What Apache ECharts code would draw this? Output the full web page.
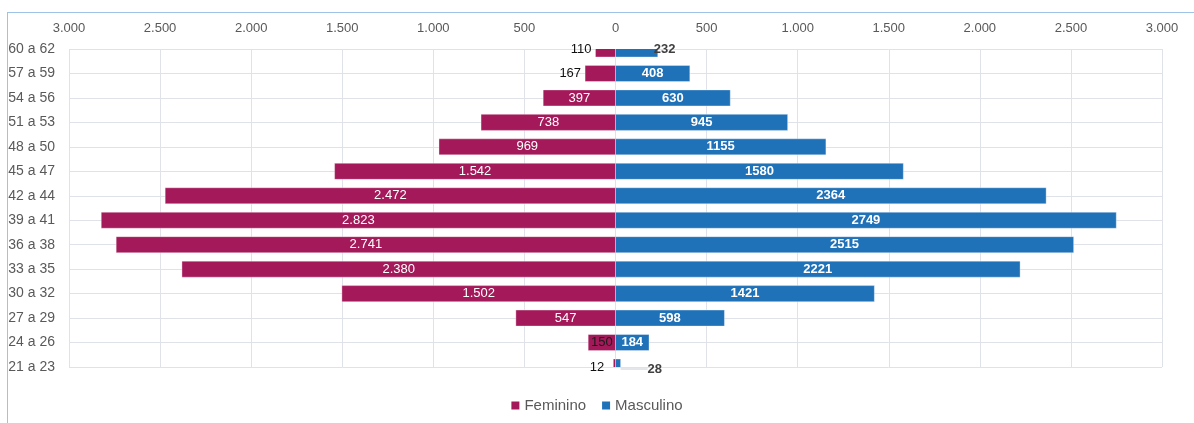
<!DOCTYPE html>
<html>
<head>
<meta charset="utf-8">
<script src="https://cdn.jsdelivr.net/npm/echarts@6/dist/echarts.min.js"></script>
<style>
html,body{margin:0;padding:0;background:#fff;}
#wrap{position:relative;width:1194px;height:423px;overflow:hidden;}
#chart{position:absolute;left:0;top:0;width:1194px;height:423px;}
#frame{position:absolute;left:7px;top:12px;right:-2px;bottom:-2px;border-left:1.5px solid #9dc3e6;border-top:1.5px solid #9dc3e6;pointer-events:none;}
</style>
</head>
<body>
<div id="wrap"><div id="chart"></div><div id="frame"></div></div>
<script>
// Categories listed bottom to top
const categories = ["21 a 23","24 a 26","27 a 29","30 a 32","33 a 35","36 a 38","39 a 41","42 a 44","45 a 47","48 a 50","51 a 53","54 a 56","57 a 59","60 a 62"];
const feminino = [12,150,547,1502,2380,2741,2823,2472,1542,969,738,397,167,110];
const masculino = [28,184,598,1421,2221,2515,2749,2364,1580,1155,945,630,408,232];
const xTicks = [-3000,-2500,-2000,-1500,-1000,-500,0,500,1000,1500,2000,2500,3000];

const fmtPt = v => String(Math.abs(v)).replace(/\B(?=(\d{3})+(?!\d))/g, '.');
const FONT = 'Liberation Sans';
const FEM_COLOR = '#a4195a';
const MASC_COLOR = '#1f71b8';

// Bars drawn by a custom series so that they are clipped to the grid (half bars at the ends)
function barRenderer(params, api){
  const val = api.value(0);
  const cat = api.value(1);
  const p0 = api.coord([0, cat]);
  const p1 = api.coord([val, cat]);
  const h = api.size([0, 1])[1] * 0.655;
  return {
    type:'rect',
    shape:{x:Math.min(p0[0],p1[0]), y:p0[1]-h/2, width:Math.abs(p1[0]-p0[0]), height:h},
    style:api.style({stroke:'rgba(255,255,255,0.35)', lineWidth:1})
  };
}

// label style overrides per category
const femOutside = {"21 a 23":1,"57 a 59":1,"60 a 62":1};
const femLabelData = feminino.map((v,i) => {
  const c = categories[i];
  const item = {value: -v};
  if (femOutside[c]) item.label = {position:'left', color:'#111', distance:c==="21 a 23"?9:4};
  else if (c === "24 a 26") item.label = {color:'#1a1a1a'};
  return item;
});
const mascLabelData = masculino.map((v,i) => {
  const c = categories[i];
  const item = {value: v};
  if (c === "60 a 62") item.label = {position:'right', color:'#404040'};
  else if (c === "21 a 23") {
    item.label = {position:'right', color:'#404040'};
    item.labelLine = {show:true, lineStyle:{color:'#c8ccd4', width:1}};
  }
  return item;
});
const lastIdx = categories.length - 1;

const chart = echarts.init(document.getElementById('chart'), null, {renderer:'canvas'});
chart.setOption({
  animation:false,
  textStyle:{fontFamily:FONT},
  grid:{left:69, right:32, top:49, bottom:56, containLabel:false},
  legend:{
    bottom:5, left:'center', icon:'rect', itemWidth:8, itemHeight:8, itemGap:16,
    textStyle:{color:'#595959', fontSize:15, fontFamily:FONT},
    data:['Feminino','Masculino']
  },
  xAxis:{
    type:'value', position:'top', min:xTicks[0], max:xTicks[xTicks.length-1], interval:500,
    axisLine:{show:false}, axisTick:{show:false},
    axisLabel:{color:'#595959', fontSize:13, margin:14, formatter:v=>fmtPt(v)},
    splitLine:{show:true, lineStyle:{color:'#dfe2e9', width:1}}
  },
  yAxis:{
    type:'category', data:categories, boundaryGap:false,
    axisLine:{show:false}, axisTick:{show:false},
    axisLabel:{color:'#595959', fontSize:14, margin:14},
    splitLine:{show:true, lineStyle:{color:'#dfe2e9', width:1}}
  },
  series:[
    {
      name:'Feminino', type:'custom', clip:true, renderItem:barRenderer,
      encode:{x:0, y:1}, itemStyle:{color:FEM_COLOR},
      data:feminino.map((v,i)=>[-v, i])
    },
    {
      name:'Masculino', type:'custom', clip:true, renderItem:barRenderer,
      encode:{x:0, y:1}, itemStyle:{color:MASC_COLOR},
      data:masculino.map((v,i)=>[v, i])
    },
    {
      name:'Feminino rótulos', type:'bar', data:femLabelData, barWidth:16, barGap:'-100%', clip:false, silent:true, z:5,
      itemStyle:{color:'rgba(0,0,0,0)', borderWidth:0},
      label:{show:true, position:'inside', color:'#fff', fontSize:13, fontFamily:FONT, formatter:p=>fmtPt(p.value)}
    },
    {
      name:'Masculino rótulos', type:'bar', data:mascLabelData, barWidth:16, barGap:'-100%', clip:false, silent:true, z:5,
      itemStyle:{color:'rgba(0,0,0,0)', borderWidth:0},
      label:{show:true, position:'inside', color:'#fff', fontSize:13, fontWeight:'bold', fontFamily:FONT, formatter:p=>String(p.value)},
      labelLayout:function(params){
        if (params.dataIndex === 0) return {dx:22, dy:2};
        if (params.dataIndex === lastIdx) return {dx:-9};
        return {};
      }
    }
  ]
});
</script>
</body>
</html>
